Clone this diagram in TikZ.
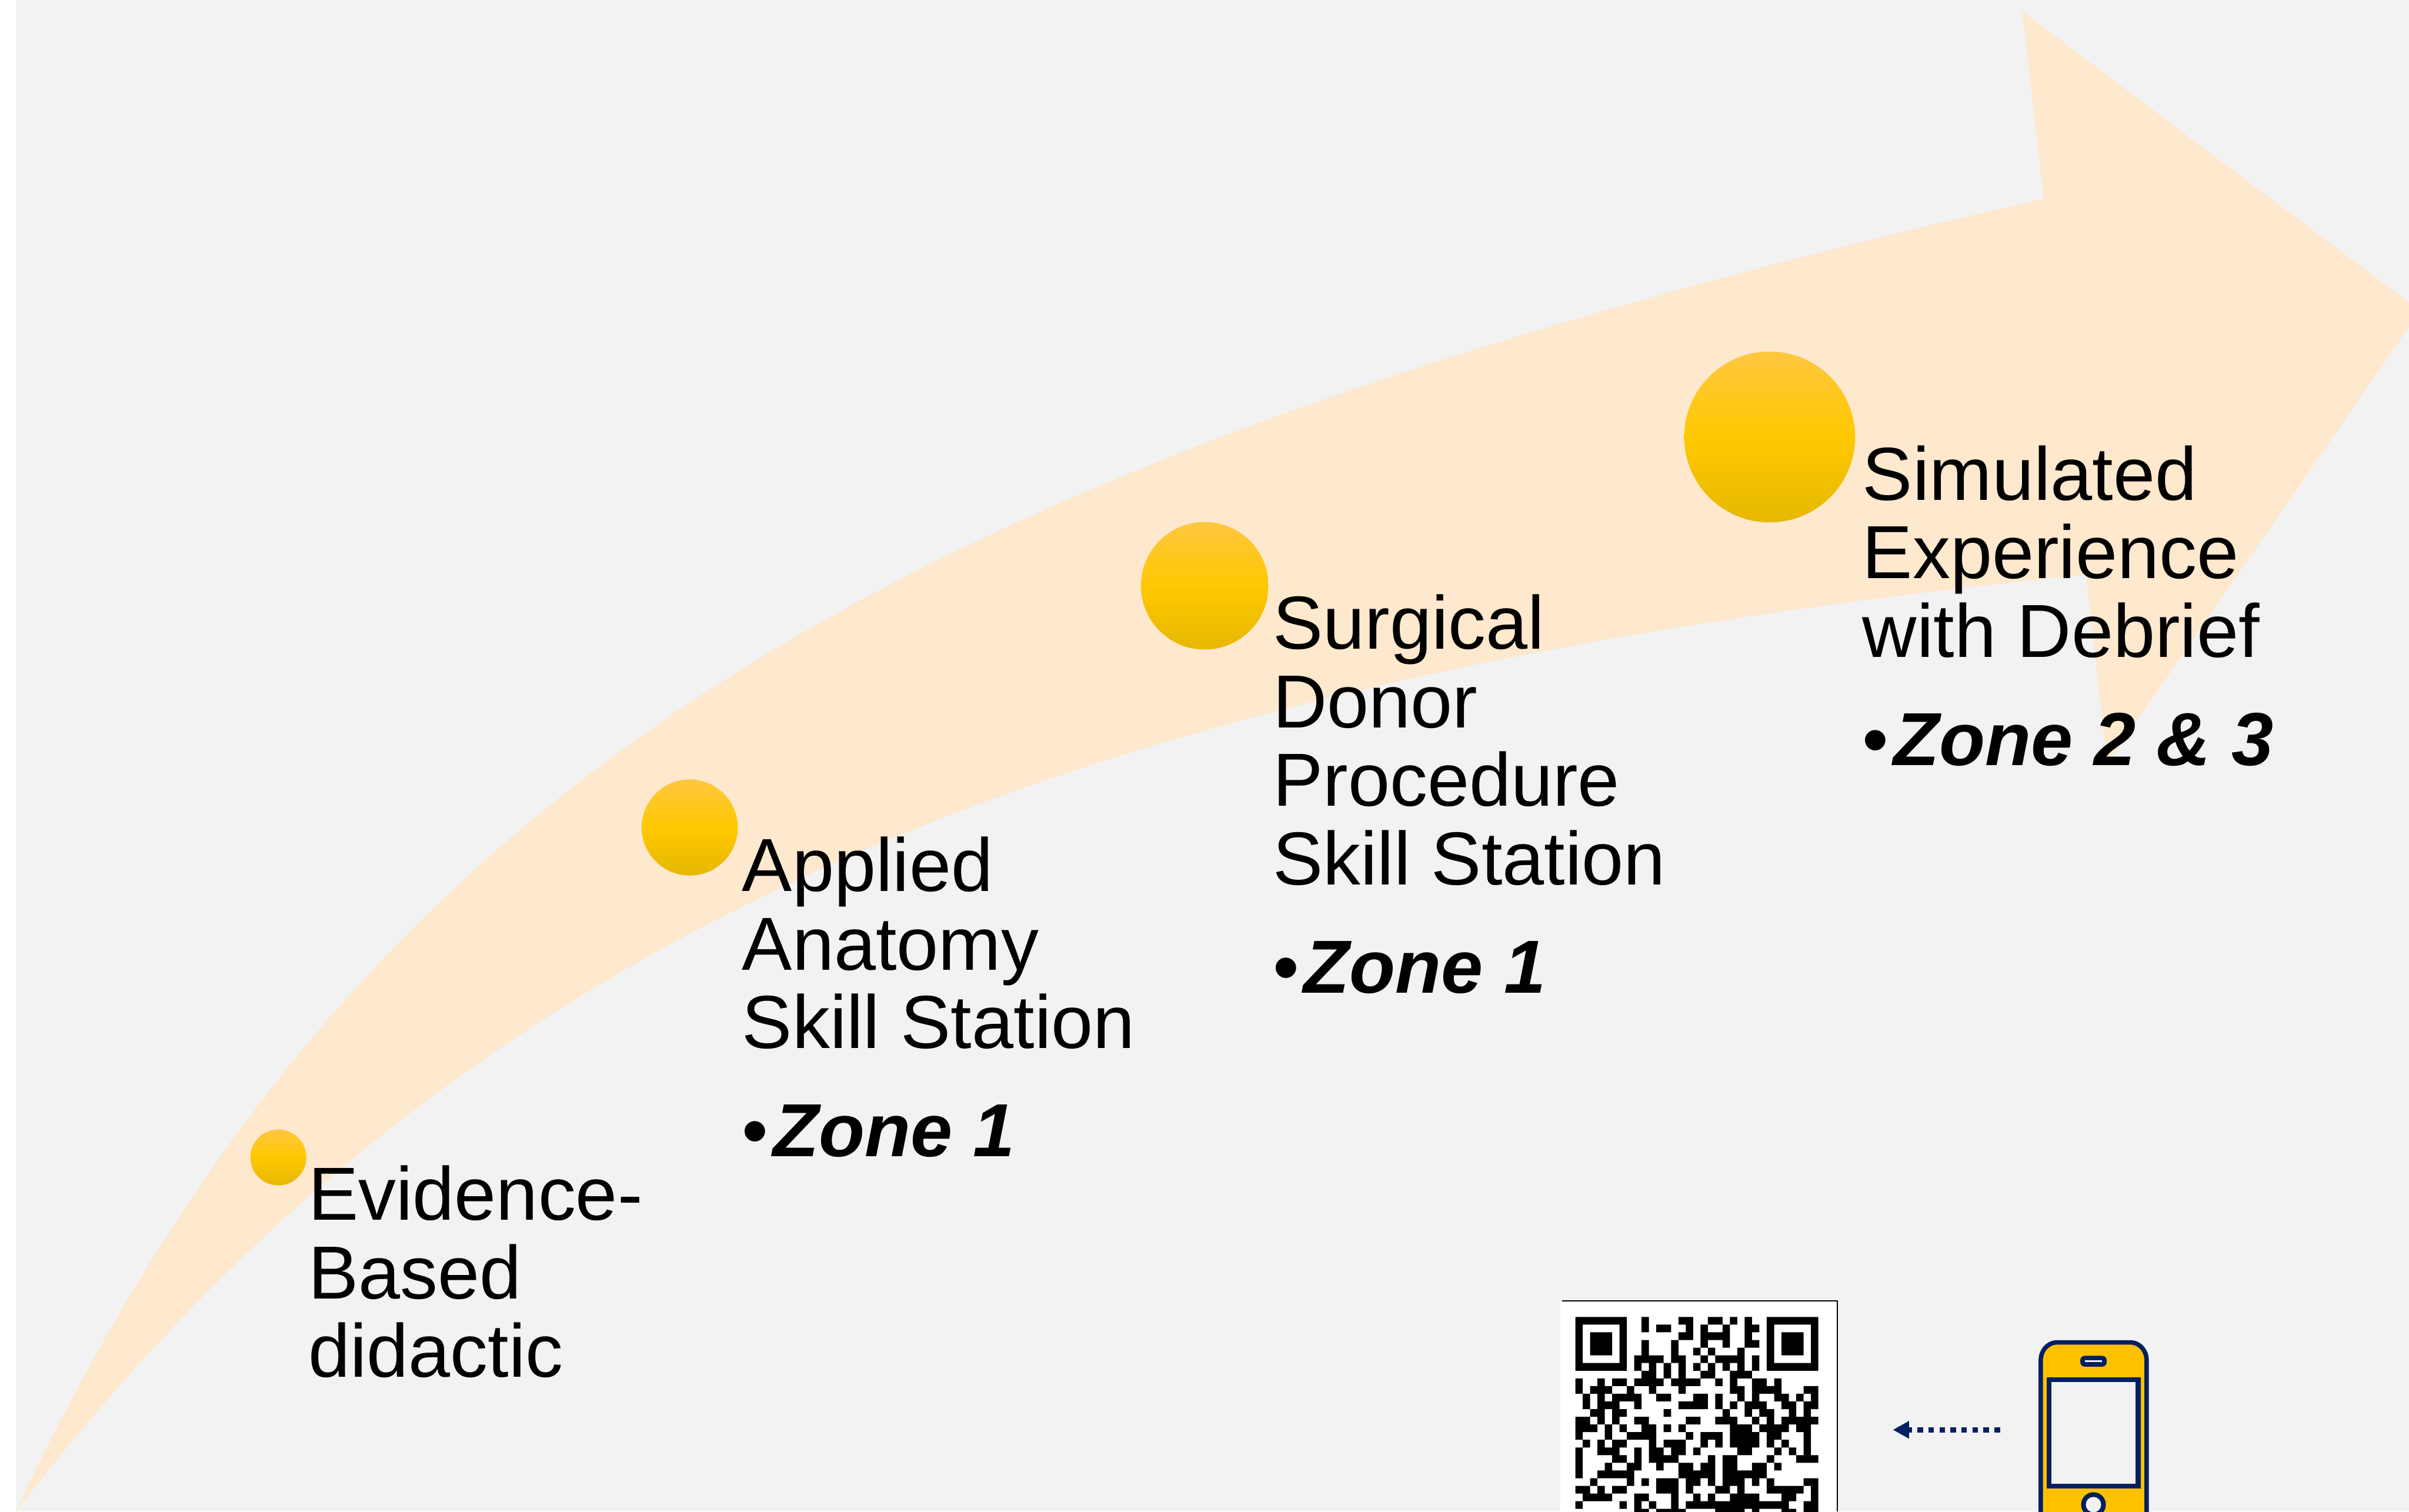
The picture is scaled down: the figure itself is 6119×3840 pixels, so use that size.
\documentclass[tikz,border=0pt]{standalone}
\usepackage{fontspec}
\setmainfont{Liberation Sans}
\usetikzlibrary{arrows.meta}
\definecolor{pagegray}{HTML}{F2F2F2}
\definecolor{sweep}{HTML}{FEE8CE}
\definecolor{navyline}{HTML}{002060}
\definecolor{phonegold}{HTML}{FFC000}
\definecolor{dottop}{HTML}{FFC740}
\definecolor{dotmid}{HTML}{FFC800}
\definecolor{dotbot}{HTML}{E6B800}
\tikzset{
  dotnode/.style={circle,inner sep=0pt,minimum size=#1*0.005cm,top color=dottop,bottom color=dotbot,middle color=dotmid},
  stagetext/.style={anchor=base west,inner sep=0pt,outer sep=0pt,align=left,text=black,
    font=\fontsize{27.2pt}{28.38pt}\selectfont},
}
\newcommand{\zoneline}[1]{•\kern1.6pt\textbf{\textit{#1}}}
\begin{document}
\begin{tikzpicture}[x=0.005cm,y=-0.005cm]
\useasboundingbox (0,0) rectangle (6119,3840);
\clip (0,0) rectangle (6119,3840);
\fill[white] (0,0) rectangle (6119,3840);
\fill[pagegray] (40,0) rectangle (6119,3840);
% sweeping arrow
\fill[sweep] (40,3840) .. controls (895,2024) and (2183,1190) .. (5191,505)
  -- (5137,30) -- (6147,790) -- (5352,1940) -- (5299,1460)
  .. controls (2625,1728) and (1152,2394) .. (40,3840) -- cycle;
% dots
\node[dotnode=142] (dotA) at (707,2940) {};
\node[dotnode=244] (dotB) at (1752,2102) {};
\node[dotnode=324] (dotC) at (3060,1488) {};
\node[dotnode=434] (dotD) at (4495,1110) {};
% texts
\node[stagetext] (txtA) at (783,3498) {Evidence-\\Based\\didactic};
\node[stagetext] (txtB) at (1885,2938) {Applied\\Anatomy\\Skill Station\\[10.8pt]\zoneline{Zone 1}};
\node[stagetext] (txtC) at (3233,2522) {Surgical\\Donor\\Procedure\\Skill Station\\[10.8pt]\zoneline{Zone 1}};
\node[stagetext] (txtD) at (4731,1944) {Simulated\\Experience\\with Debrief\\[10.8pt]\zoneline{Zone 2 \& 3}};
% QR code
\fill[white] (3964,3306) rectangle (4666,3840);
\draw[black,line width=0.4pt] (3967,3305) -- (4667,3305) -- (4667,3840);
\fill[black] \foreach \r/\cs in {
0/{0,1,2,3,4,5,6,9,14,15,18,19,21,23,26,27,28,29,30,31,32},
1/{0,6,9,11,12,15,17,20,23,24,26,32},
2/{0,2,3,4,6,14,15,17,18,19,20,23,26,28,29,30,32},
3/{0,2,3,4,6,9,13,17,20,23,24,26,28,29,30,32},
4/{0,2,3,4,6,9,13,16,18,22,26,28,29,30,32},
5/{0,6,8,9,10,11,13,14,17,19,20,21,22,24,26,32},
6/{0,1,2,3,4,5,6,8,10,12,14,16,18,20,22,24,26,27,28,29,30,31,32},
7/{9,10,12,14,17,18,21,22,23},
8/{0,3,5,6,8,9,10,11,13,14,15,16,19,21,24,25,27},
9/{0,2,3,4,7,10,14,21,22,24,25,26,27,31,32},
10/{1,3,5,6,7,8,11,12,16,17,19,22,24,27,28,30,32},
11/{1,3,4,5,8,14,15,16,17,19,21,23,24,25,28,29,31,32},
12/{2,3,5,6,12,20,23,25,26,29,31},
13/{0,1,3,5,8,9,15,16,19,20,21,24,26,28,29,30,31,32},
14/{0,1,2,4,6,9,10,12,14,21,22,23,25,26,27,28,30,31},
15/{0,4,7,8,9,10,15,17,18,19,21,22,23,24,26,27,31},
16/{1,3,5,6,10,12,13,14,17,19,21,22,23,24,26,28,31},
17/{0,3,4,5,8,10,11,13,14,16,22,23,27,29,31},
18/{0,5,6,8,10,11,12,13,18,20,21,26,30,31,32},
19/{0,4,7,8,11,14,15,17,18,20,21,24,25,27},
20/{0,3,4,5,6,7,14,15,16,17,18,20,21,22,23,24,25},
21/{2,7,9,11,12,13,15,16,18,20,21,22,24,26,31,32},
22/{0,1,3,5,6,11,12,13,15,19,20,22,26,27,28,29,30,32},
23/{1,2,3,4,8,9,13,16,18,21,22,23,24,28,29,32},
24/{0,6,8,10,13,15,16,17,18,19,20,21,22,23,24,25,26,27,28,31,32},
25/{8,9,11,12,13,14,19,20,21,22,24,28,29,31,32}}
{ \foreach \c in \cs { ({4001.4+\c*18.7},{3345.4+\r*19.5}) rectangle ({4001.4+(\c+1)*18.7},{3345.4+(\r+1)*19.5}) } };
% phone
\draw[navyline,fill=phonegold,line width=1.6pt] (5183.5,3900) -- (5183.5,3455) .. controls (5183.5,3432) and (5200,3410) .. (5225,3410) -- (5411,3410) .. controls (5436,3410) and (5452.5,3432) .. (5452.5,3455) -- (5452.5,3900) -- cycle;
\fill[navyline,rounded corners=1.6pt] (5284,3444) rectangle (5351,3471.5);
\fill[pagegray] (5296,3456) rectangle (5339,3460);
\fill[navyline] (5198,3498.7) rectangle (5437,3781.5);
\fill[pagegray] (5210,3510.6) rectangle (5425,3769.3);
\fill[navyline] (5317.5,3822) circle[radius=31.5];
\fill[pagegray] (5317.5,3822) circle[radius=19.5];
% dotted arrow from phone toward QR code
\coordinate (arrowStart) at (5080,3632);
\coordinate (arrowEnd) at (4808,3632);
\draw[navyline,line width=1.99pt,dash pattern=on 1.99pt off 1.99pt,-{Triangle[length=5.83pt,width=5.97pt]}] (arrowStart) -- (arrowEnd);
\end{tikzpicture}
\end{document}
